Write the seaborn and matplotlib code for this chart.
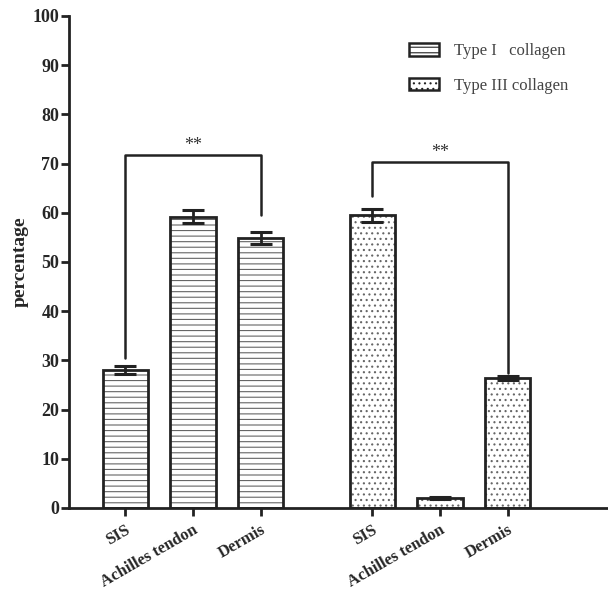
import numpy as np
import pandas as pd
import matplotlib.pyplot as plt
import seaborn as sns
from matplotlib.patches import Patch

# --- data ---
tissues = ["SIS", "Achilles tendon", "Dermis", "SIS", "Achilles tendon", "Dermis"]
collagen = ["Type I   collagen"] * 3 + ["Type III collagen"] * 3
positions = [0, 1, 2, 3.65, 4.65, 5.65]
means = [28.0, 59.2, 54.8, 59.5, 2.0, 26.5]
errors = [0.8, 1.3, 1.2, 1.3, 0.2, 0.4]

# significance brackets: (left idx, right idx, bar height, left leg end, right leg end)
brackets = [(0, 2, 71.7, 30.5, 59.5), (3, 5, 70.3, 63.5, 27.5)]

df = pd.DataFrame({"pos": positions, "value": means, "type": collagen})
hatch_map = {"Type I   collagen": "---", "Type III collagen": "..."}

sns.set_theme(style="ticks")
plt.rcParams["font.family"] = ["Liberation Serif", "DejaVu Serif"]
plt.rcParams["hatch.linewidth"] = 0.8

fig = plt.figure(figsize=(6.08, 5.92), dpi=100)
ax = fig.add_axes([0.1135, 0.142, 0.8865, 0.831])

# hatched fill layer
sns.barplot(data=df, x="pos", y="value", native_scale=True, width=0.667,
            color="white", errorbar=None, ax=ax, linewidth=0, edgecolor="#666666")
for p, t in zip(ax.patches, df["type"]):
    p.set_hatch(hatch_map[t])
    p.set_edgecolor("#666666")
    p.set_facecolor("white")
    p.set_linewidth(0)
n_fill = len(ax.patches)

# outline layer
sns.barplot(data=df, x="pos", y="value", native_scale=True, width=0.667,
            fill=False, errorbar=None, ax=ax, linewidth=2, edgecolor="#222222")
for p in ax.patches[n_fill:]:
    p.set_facecolor("none")
    p.set_edgecolor("#222222")

ax.errorbar(df["pos"], df["value"], yerr=errors, fmt="none", ecolor="#222222",
            elinewidth=2, capsize=8, capthick=2.2)

for i, j, h, yl, yr in brackets:
    xl, xr = positions[i], positions[j]
    ax.plot([xl, xl, xr, xr], [yl, h, h, yr], color="#222222", lw=1.8)
    ax.text((xl + xr) / 2, h + 0.2, "**", ha="center", va="bottom",
            fontsize=13, color="#333333")

ax.set_xlim(-0.83, 7.13)
ax.set_ylim(0, 100)
ax.set_yticks(range(0, 101, 10))
ax.set_xticks(positions)
ax.set_xticklabels(tissues, rotation=30, ha="right", rotation_mode="anchor",
                   fontweight="bold", fontsize=12)
for lab in ax.get_yticklabels():
    lab.set_fontweight("bold")
    lab.set_fontsize(13)
ax.set_xlabel("")
ax.set_ylabel("percentage", fontweight="bold", fontsize=14, labelpad=3)
ax.tick_params(axis="both", width=2, length=6, color="#222222")
ax.tick_params(axis="y", pad=1)
ax.tick_params(axis="x", pad=4)
for s in ["left", "bottom"]:
    ax.spines[s].set_linewidth(2)
    ax.spines[s].set_color("#222222")
sns.despine(ax=ax)

handles = [Patch(facecolor="white", edgecolor="#222222", hatch=hatch_map[k], linewidth=1.8, label=k)
           for k in hatch_map]
leg = ax.legend(handles=handles, loc="upper right", bbox_to_anchor=(0.955, 0.975),
                frameon=False, fontsize=12, handlelength=1.8, handleheight=0.75,
                handletextpad=0.9, labelspacing=1.1, labelcolor="#444444")

fig.savefig("out.png", dpi=100)
